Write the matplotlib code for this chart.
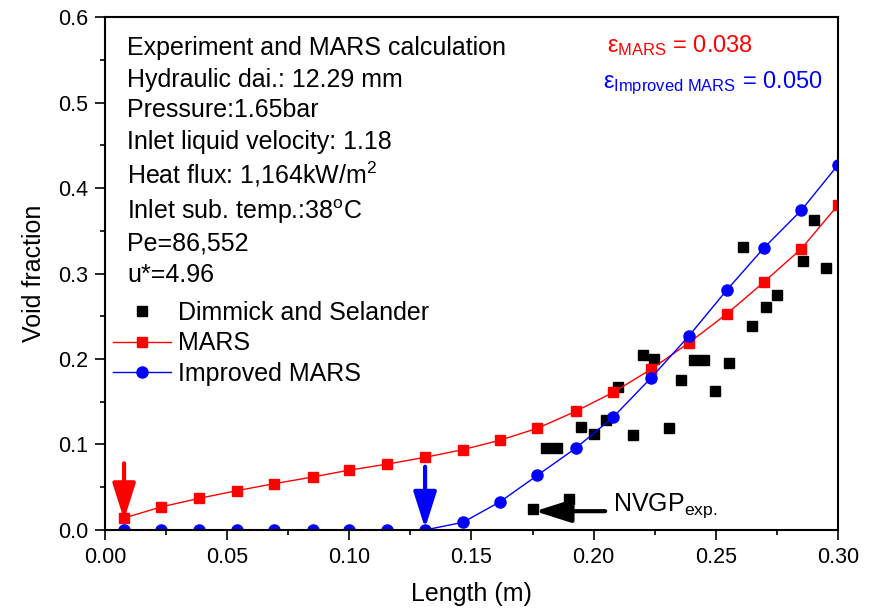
import numpy as np
import matplotlib
matplotlib.use('Agg')
import matplotlib.pyplot as plt
from matplotlib.ticker import MultipleLocator, FormatStrFormatter

plt.rcParams['font.family'] = ['Liberation Sans', 'DejaVu Sans']
plt.rcParams['mathtext.fontset'] = 'custom'
plt.rcParams['mathtext.rm'] = 'Liberation Sans'
plt.rcParams['mathtext.it'] = 'Liberation Sans'

# Dimmick and Selander experiment
exp_x = [0.175, 0.190, 0.1805, 0.185, 0.195, 0.200, 0.205, 0.210, 0.216, 0.220,
         0.2247, 0.231, 0.2358, 0.241, 0.245, 0.2497, 0.2555, 0.261, 0.265, 0.2706,
         0.275, 0.2857, 0.290, 0.295]
exp_y = [0.025, 0.036, 0.096, 0.096, 0.120, 0.112, 0.129, 0.167, 0.111, 0.205,
         0.200, 0.119, 0.175, 0.199, 0.199, 0.163, 0.195, 0.331, 0.239, 0.261,
         0.275, 0.315, 0.363, 0.306]

# MARS
mars_x = [0.0078, 0.023, 0.0385, 0.054, 0.069, 0.085, 0.100, 0.1154, 0.131, 0.1465,
          0.1617, 0.177, 0.1928, 0.208, 0.2235, 0.239, 0.2546, 0.2697, 0.285, 0.300]
mars_y = [0.014, 0.027, 0.037, 0.046, 0.054, 0.062, 0.070, 0.077, 0.085, 0.094,
          0.105, 0.119, 0.139, 0.161, 0.188, 0.219, 0.253, 0.290, 0.329, 0.380]

# Improved MARS
imp_x = mars_x
imp_y = [0.0, 0.0, 0.0, 0.0, 0.0, 0.0, 0.0, 0.0, 0.0, 0.009,
         0.033, 0.064, 0.096, 0.132, 0.178, 0.227, 0.281, 0.330, 0.374, 0.427]

info = ['Experiment and MARS calculation',
        'Hydraulic dai.: 12.29 mm',
        'Pressure:1.65bar',
        'Inlet liquid velocity: 1.18',
        r'Heat flux: 1,164kW/m$^2$',
        r'Inlet sub. temp.:38$^{\rm o}$C',
        'Pe=86,552',
        'u*=4.96']
info_y = [0.5556, 0.5185, 0.4827, 0.4456, 0.4047, 0.3637, 0.3267, 0.2904]

fig = plt.figure(figsize=(8.7, 6.08), dpi=100)
ax = fig.add_axes([0.1207, 0.1283, 0.8425, 0.8437])

ax.plot(exp_x, exp_y, 's', color='black', ms=7, ls='none', label='Dimmick and Selander')
ax.plot(mars_x, mars_y, 's-', color='red', ms=7.5, lw=1, label='MARS')
ax.plot(imp_x, imp_y, 'o-', color='blue', ms=8, lw=1, label='Improved MARS')

ax.set_xlim(0, 0.30)
ax.set_ylim(0, 0.6)
ax.xaxis.set_major_locator(MultipleLocator(0.05))
ax.xaxis.set_minor_locator(MultipleLocator(0.025))
ax.yaxis.set_major_locator(MultipleLocator(0.1))
ax.yaxis.set_minor_locator(MultipleLocator(0.05))
ax.xaxis.set_major_formatter(FormatStrFormatter('%.2f'))
ax.yaxis.set_major_formatter(FormatStrFormatter('%.1f'))
ax.tick_params(which='major', direction='out', length=7, width=1.2, labelsize=15.5, pad=5)
ax.tick_params(which='minor', direction='out', length=3.6, width=1.2)
for s in ax.spines.values():
    s.set_linewidth(1.5)
ax.set_xlabel('Length (m)', fontsize=18, labelpad=10)
ax.set_ylabel('Void fraction', fontsize=18, labelpad=9)

for t, yy in zip(info, info_y):
    ax.text(0.009, yy, t, fontsize=18, va='baseline', ha='left')

ax.legend(loc='upper left', bbox_to_anchor=(0.011, 0.447), frameon=False,
          fontsize=18, handlelength=2.3, handletextpad=0.3, labelspacing=0.27,
          borderaxespad=0, borderpad=0)

ax.text(0.2055, 0.559, r'$\varepsilon_{\rm MARS}$ = 0.038', color='red', fontsize=17,
        va='baseline', ha='left')
ax.text(0.2038, 0.517, r'$\varepsilon_{\rm Improved\ MARS}$ = 0.050', color='blue', fontsize=17,
        va='baseline', ha='left')

# NVGP arrows
ahead = '-|>,head_width=0.7,head_length=2.2'
ax.annotate('', xy=(0.0078, 0.012), xytext=(0.0078, 0.078),
            arrowprops=dict(arrowstyle=ahead, color='red', lw=3, shrinkA=0, shrinkB=0))
ax.annotate('', xy=(0.131, 0.002), xytext=(0.131, 0.074),
            arrowprops=dict(arrowstyle=ahead, color='blue', lw=3, shrinkA=0, shrinkB=0))
ax.annotate('', xy=(0.176, 0.022), xytext=(0.2047, 0.022),
            arrowprops=dict(arrowstyle=ahead, color='black', lw=3, shrinkA=0, shrinkB=0))
ax.text(0.208, 0.022, r'NVGP$_{\rm exp.}$', fontsize=18, va='baseline', ha='left')

plt.savefig('out.png', dpi=100)
